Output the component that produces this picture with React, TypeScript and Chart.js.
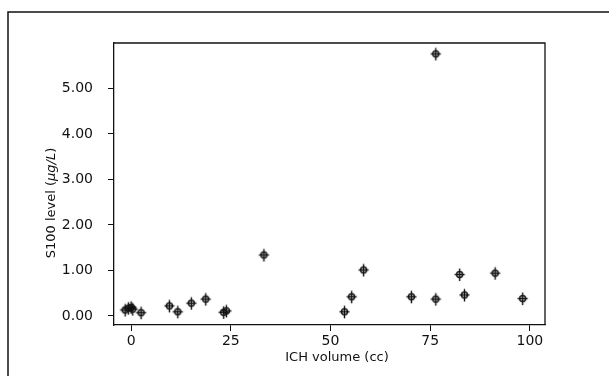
import React, { useEffect, useRef } from 'react';
import { Chart, registerables } from 'chart.js';

Chart.register(...registerables);

// ICH volume (cc) vs S100 level (µg/L)
const ichVolume = [-1.5, -0.7, 0, 0.4, 2.5, 9.6, 11.7, 15.1, 18.7, 23.2, 23.9, 33.3, 53.5, 55.3, 58.3, 70.3, 76.4, 82.4, 83.6, 91.3, 98.2, 76.4];
const s100Level = [0.13, 0.17, 0.19, 0.15, 0.07, 0.22, 0.09, 0.28, 0.37, 0.08, 0.11, 1.34, 0.09, 0.42, 1.01, 0.42, 0.37, 0.91, 0.46, 0.94, 0.38, 5.76];

const xTicks = [0, 25, 50, 75, 100];
const yTicks = [0, 1, 2, 3, 4, 5];
const xTitle = 'ICH volume (cc)';
const yTitleStart = 'S100 level (';
const yTitleUnit = 'µg/L';
const yTitleEnd = ')';

const INK = '#111111';
const FONT_FAMILY = '"DejaVu Sans", sans-serif';

function makeMarker(): HTMLCanvasElement {
  const c = document.createElement('canvas');
  c.width = 13;
  c.height = 15;
  const g = c.getContext('2d') as CanvasRenderingContext2D;
  g.strokeStyle = INK;
  g.lineWidth = 1.4;
  g.beginPath();
  g.arc(6.5, 7.5, 3.0, 0, Math.PI * 2);
  g.stroke();
  g.beginPath();
  g.moveTo(6.5, 1.5);
  g.lineTo(6.5, 14);
  g.moveTo(1.5, 7.5);
  g.lineTo(11.5, 7.5);
  g.stroke();
  return c;
}

const decorPlugin = {
  id: 'decor',
  afterDraw(chart: any) {
    const { ctx, chartArea: a } = chart;
    ctx.save();
    ctx.strokeStyle = INK;
    ctx.lineWidth = 1.3;
    ctx.beginPath();
    ctx.moveTo(a.left, a.top);
    ctx.lineTo(a.right, a.top);
    ctx.lineTo(a.right, a.bottom);
    ctx.stroke();

    // outer frame
    ctx.lineWidth = 1.5;
    ctx.beginPath();
    ctx.moveTo(8, chart.height);
    ctx.lineTo(8, 12);
    ctx.lineTo(chart.width, 12);
    ctx.stroke();

    ctx.fillStyle = INK;
    ctx.font = `13px ${FONT_FAMILY}`;
    ctx.textAlign = 'center';
    ctx.textBaseline = 'middle';
    ctx.fillText(xTitle, 337, 358);

    // y title with italic unit
    ctx.translate(52, 203);
    ctx.rotate(-Math.PI / 2);
    const normal = `13px ${FONT_FAMILY}`;
    const italic = `italic 13px ${FONT_FAMILY}`;
    ctx.font = normal;
    const w1 = ctx.measureText(yTitleStart).width;
    const w3 = ctx.measureText(yTitleEnd).width;
    ctx.font = italic;
    const w2 = ctx.measureText(yTitleUnit).width;
    let x = -(w1 + w2 + w3) / 2;
    ctx.textAlign = 'left';
    ctx.font = normal;
    ctx.fillText(yTitleStart, x, 0);
    x += w1;
    ctx.font = italic;
    ctx.fillText(yTitleUnit, x, 0);
    x += w2;
    ctx.font = normal;
    ctx.fillText(yTitleEnd, x, 0);
    ctx.restore();
  },
};

export default function App() {
  const ref = useRef<HTMLCanvasElement | null>(null);

  useEffect(() => {
    if (!ref.current) return;
    const marker = makeMarker();
    const tickFont = { family: FONT_FAMILY, size: 14 };
    const chart = new Chart(ref.current, {
      type: 'scatter',
      data: {
        datasets: [
          {
            data: ichVolume.map((v, i) => ({ x: v, y: s100Level[i] })),
            pointStyle: marker as any,
            pointRadius: 6,
            borderColor: INK,
            backgroundColor: 'transparent',
          },
        ],
      },
      options: {
        animation: false,
        responsive: false,
        events: [],
        layout: { padding: { top: 43, right: 64, left: 0, bottom: 0 } },
        plugins: {
          legend: { display: false },
          tooltip: { enabled: false },
          title: { display: false },
        },
        scales: {
          x: {
            type: 'linear',
            min: -4.3,
            max: 103.8,
            afterBuildTicks: (s: any) => {
              s.ticks = xTicks.map((v) => ({ value: v }));
            },
            afterFit: (s: any) => {
              s.height = 51;
            },
            grid: { drawOnChartArea: false, drawTicks: true, tickLength: 6, color: INK, lineWidth: 1 },
            border: { display: true, color: INK, width: 1.3 },
            ticks: {
              font: tickFont,
              color: INK,
              padding: 2,
              maxRotation: 0,
              callback: (v: any) => String(v),
            },
          },
          y: {
            type: 'linear',
            min: -0.2,
            max: 6.0,
            afterBuildTicks: (s: any) => {
              s.ticks = yTicks.map((v) => ({ value: v }));
            },
            afterFit: (s: any) => {
              s.width = 114;
            },
            grid: { drawOnChartArea: false, drawTicks: true, tickLength: 6, color: INK, lineWidth: 1 },
            border: { display: true, color: INK, width: 1.3 },
            ticks: {
              font: tickFont,
              color: INK,
              padding: 15,
              callback: (v: any) => Number(v).toFixed(2),
            },
          },
        },
      },
      plugins: [decorPlugin],
    });
    return () => chart.destroy();
  }, []);

  return (
    <div style={{ position: 'fixed', left: 0, top: 0, width: 609, height: 376, background: '#fff' }}>
      <canvas ref={ref} width={609} height={376} style={{ display: 'block' }} />
    </div>
  );
}
